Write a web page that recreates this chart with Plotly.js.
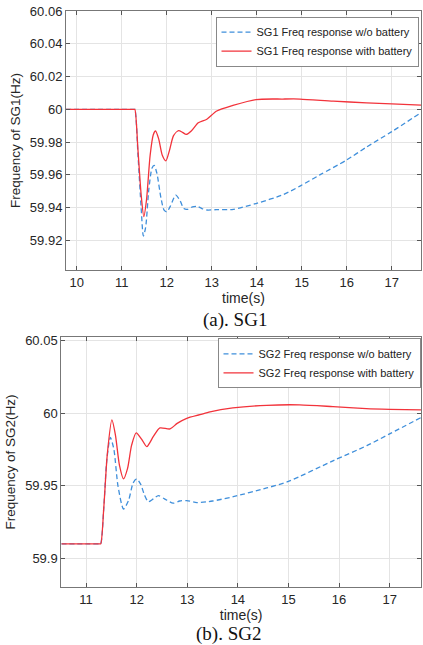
<!DOCTYPE html>
<html>
<head>
<meta charset="utf-8">
<script src="https://cdn.plot.ly/plotly-3.0.1.min.js"></script>
<style>
  html, body { margin: 0; padding: 0; background: #fff; }
  #chart { width: 423px; height: 645px; }
</style>
</head>
<body>
<div id="chart"></div>
<script>
// ---------- SG1 data ----------
const sg1WithT = [9.76, 11.0, 11.27, 11.29, 11.36, 11.43, 11.49, 11.55, 11.63, 11.70, 11.75, 11.82, 11.90, 11.98, 12.06, 12.15, 12.26, 12.35, 12.43, 12.55, 12.70, 12.89, 13.11, 13.47, 13.98, 14.58, 14.96, 15.7, 16.44, 17.0, 17.65];
const sg1WithF = [60, 60, 60, 60, 59.975, 59.948, 59.9345, 59.945, 59.972, 59.9845, 59.9868, 59.982, 59.972, 59.9686, 59.975, 59.984, 59.987, 59.986, 59.9847, 59.987, 59.9918, 59.994, 59.999, 60.0024, 60.006, 60.0063, 60.0063, 60.005, 60.004, 60.0033, 60.0026];

const sg1WoT = [9.76, 11.0, 11.27, 11.29, 11.36, 11.43, 11.48, 11.53, 11.60, 11.67, 11.72, 11.78, 11.87, 11.94, 12.0, 12.08, 12.2, 12.3, 12.38, 12.46, 12.57, 12.68, 12.78, 12.89, 13.1, 13.48, 14.0, 14.59, 14.96, 15.4, 15.99, 16.44, 17.0, 17.65];
const sg1WoF = [60, 60, 60, 60, 59.972, 59.94, 59.9227, 59.928, 59.951, 59.964, 59.9658, 59.961, 59.946, 59.9385, 59.9375, 59.941, 59.9477, 59.944, 59.9395, 59.939, 59.9405, 59.9408, 59.9395, 59.9386, 59.9388, 59.939, 59.9427, 59.948, 59.9532, 59.96, 59.969, 59.977, 59.9864, 59.998];

// ---------- SG2 data ----------
const sg2WithT = [10.51, 11.0, 11.27, 11.29, 11.35, 11.42, 11.51, 11.58, 11.66, 11.74, 11.82, 11.90, 11.99, 12.1, 12.2, 12.33, 12.46, 12.66, 12.80, 12.99, 13.25, 13.45, 13.9, 14.57, 15.22, 15.88, 16.54, 17.0, 17.63];
const sg2WithF = [59.91, 59.91, 59.91, 59.91, 59.935, 59.972, 59.9954, 59.985, 59.964, 59.9547, 59.962, 59.978, 59.9865, 59.982, 59.977, 59.984, 59.9899, 59.9892, 59.993, 59.9965, 59.999, 60.001, 60.0037, 60.0055, 60.0058, 60.0046, 60.0032, 60.0027, 60.0023];

const sg2WoT = [10.51, 11.0, 11.27, 11.29, 11.35, 11.41, 11.48, 11.55, 11.63, 11.74, 11.84, 11.93, 12.0, 12.08, 12.15, 12.23, 12.33, 12.43, 12.55, 12.72, 12.85, 12.99, 13.19, 13.5, 13.91, 14.57, 15.0, 15.89, 16.55, 17.0, 17.63];
const sg2WoF = [59.91, 59.91, 59.91, 59.91, 59.935, 59.968, 59.9834, 59.975, 59.95, 59.934, 59.94, 59.952, 59.9547, 59.951, 59.944, 59.939, 59.941, 59.9432, 59.941, 59.938, 59.9395, 59.9398, 59.9384, 59.9395, 59.9425, 59.9485, 59.953, 59.9674, 59.9777, 59.9858, 59.9972];

// ---------- ticks & labels ----------
const x1Ticks = [10, 11, 12, 13, 14, 15, 16, 17];
const x2Ticks = [11, 12, 13, 14, 15, 16, 17];
const y1TickVals = [59.92, 59.94, 59.96, 59.98, 60, 60.02, 60.04, 60.06];
const y1TickText = ['59.92', '59.94', '59.96', '59.98', '60', '60.02', '60.04', '60.06'];
const y2TickVals = [59.9, 59.95, 60, 60.05];
const y2TickText = ['59.9', '59.95', '60', '60.05'];
const names1 = ['SG1 Freq response w/o battery', 'SG1 Freq response with battery'];
const names2 = ['SG2 Freq response w/o battery', 'SG2 Freq response with battery'];
const captions = ['(a). SG1', '(b). SG2'];

const BLUE = '#3f8fdb';
const RED = '#f2333b';
const W = 423, H = 645;
const FONT = 'Liberation Sans, Arial, sans-serif';
const SERIF = 'Liberation Serif, Times New Roman, serif';

const traces = [
  { x: sg1WoT, y: sg1WoF, name: names1[0], type: 'scatter', mode: 'lines', xaxis: 'x', yaxis: 'y', legend: 'legend',
    line: { color: BLUE, width: 1.3, dash: '5px,3px', shape: 'spline', smoothing: 0.7 } },
  { x: sg1WithT, y: sg1WithF, name: names1[1], type: 'scatter', mode: 'lines', xaxis: 'x', yaxis: 'y', legend: 'legend',
    line: { color: RED, width: 1.3, shape: 'spline', smoothing: 0.7 } },
  { x: sg2WoT, y: sg2WoF, name: names2[0], type: 'scatter', mode: 'lines', xaxis: 'x2', yaxis: 'y2', legend: 'legend2',
    line: { color: BLUE, width: 1.3, dash: '5px,3px', shape: 'spline', smoothing: 0.7 } },
  { x: sg2WithT, y: sg2WithF, name: names2[1], type: 'scatter', mode: 'lines', xaxis: 'x2', yaxis: 'y2', legend: 'legend2',
    line: { color: RED, width: 1.3, shape: 'spline', smoothing: 0.7 } }
];

const axisCommon = {
  showline: true, linecolor: '#777', linewidth: 1, mirror: 'ticks',
  ticks: 'inside', ticklen: 4, tickcolor: '#555', tickwidth: 1,
  showgrid: true, gridcolor: '#e4e4e4', gridwidth: 1,
  zeroline: false, tickfont: { family: FONT, size: 13, color: '#262626' }
};

const layout = {
  width: W, height: H,
  margin: { l: 0, r: 0, t: 0, b: 0 },
  paper_bgcolor: '#fff', plot_bgcolor: '#fff',
  font: { family: FONT, color: '#262626' },
  xaxis: Object.assign({}, axisCommon, {
    domain: [66 / W, 421 / W], anchor: 'y', range: [9.76, 17.65],
    tickvals: x1Ticks,
    title: { text: 'time(s)', font: { family: FONT, size: 14, color: '#262626' }, standoff: 4 }
  }),
  yaxis: Object.assign({}, axisCommon, {
    domain: [1 - 270 / H, 1 - 11 / H], anchor: 'x', range: [59.902, 60.06],
    tickvals: y1TickVals, ticktext: y1TickText,
    title: { text: 'Frequency of SG1(Hz)', font: { family: FONT, size: 13.5, color: '#262626' }, standoff: 6 }
  }),
  xaxis2: Object.assign({}, axisCommon, {
    domain: [61.3 / W, 421 / W], anchor: 'y2', range: [10.51, 17.62],
    tickvals: x2Ticks,
    title: { text: 'time(s)', font: { family: FONT, size: 14, color: '#262626' }, standoff: 4 }
  }),
  yaxis2: Object.assign({}, axisCommon, {
    domain: [1 - 587.3 / H, 1 - 336.7 / H], anchor: 'x2', range: [59.88, 60.0528],
    tickvals: y2TickVals, ticktext: y2TickText,
    title: { text: 'Frequency of SG2(Hz)', font: { family: FONT, size: 13.5, color: '#262626' }, standoff: 6 }
  }),
  legend: {
    x: 418.5 / W, y: 1 - 16.7 / H, xanchor: 'right', yanchor: 'top',
    bgcolor: '#fff', bordercolor: '#888', borderwidth: 1, itemwidth: 30,
    font: { family: FONT, size: 11, color: '#222' }, tracegroupgap: 0
  },
  legend2: {
    x: 420.5 / W, y: 1 - 338.3 / H, xanchor: 'right', yanchor: 'top',
    bgcolor: '#fff', bordercolor: '#888', borderwidth: 1, itemwidth: 30,
    font: { family: FONT, size: 11, color: '#222' }, tracegroupgap: 0
  },
  showlegend: true,
  annotations: [
    { text: captions[0], xref: 'paper', yref: 'paper', x: 235 / W, y: 1 - 320 / H, xanchor: 'center', yanchor: 'middle',
      showarrow: false, font: { family: SERIF, size: 19, color: '#111' } },
    { text: captions[1], xref: 'paper', yref: 'paper', x: 228.7 / W, y: 1 - 633.5 / H, xanchor: 'center', yanchor: 'middle',
      showarrow: false, font: { family: SERIF, size: 19, color: '#111' } }
  ]
};

Plotly.newPlot('chart', traces, layout, { displayModeBar: false, staticPlot: true });
</script>
</body>
</html>
